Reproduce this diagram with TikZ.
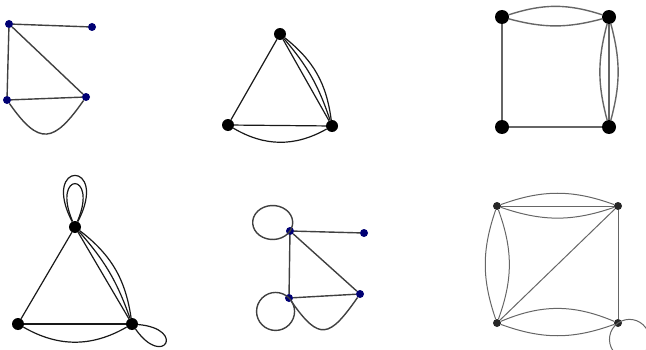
\documentclass[tikz,border=0pt]{standalone}
\usepackage{tikz}
\usetikzlibrary{calc}

\begin{document}
\begin{tikzpicture}[
        x=1pt, y=1pt,
        dot_blue/.style={circle, fill=blue!45!black, draw=none, inner sep=0pt, minimum size=8pt},
        dot_big/.style={circle, fill=black, draw=none, inner sep=0pt, minimum size=12pt},
        dot_huge/.style={circle, fill=black, draw=none, inner sep=0pt, minimum size=14pt},
        dot_small/.style={circle, fill=black!85, draw=none, inner sep=0pt, minimum size=8pt},
        edge_dark/.style={draw=black!75, line width=1.4pt},
        edge_black/.style={draw=black!90, line width=1.2pt},
        edge_gray/.style={draw=black!60, line width=1.4pt},
        edge_thin/.style={draw=black!60, line width=1pt}
    ]
    \useasboundingbox (0, 0) rectangle (646, 349);
    
    % ==================== Graph 1 (top left) ====================
    \node[dot_blue] (g1a) at (9, 325) {};
    \node[dot_blue] (g1b) at (92, 322) {};
    \node[dot_blue] (g1c) at (7, 249) {};
    \node[dot_blue] (g1d) at (86, 252) {};
    
    \draw[edge_dark] (g1a) -- (g1b);
    \draw[edge_dark] (g1a) -- (g1c);
    \draw[edge_dark] (g1a) -- (g1d);
    \draw[edge_dark] (g1c) -- (g1d);
    \draw[edge_dark] (g1c) to[out=-55, in=-125, looseness=1.8] (g1d);
    
    % ==================== Graph 2 (top middle) ====================
    \node[dot_big] (g2t) at (280, 315) {};
    \node[dot_big] (g2l) at (228, 224) {};
    \node[dot_big] (g2r) at (332, 223) {};
    
    \draw[edge_black] (g2t) -- (g2l);
    \draw[edge_black] (g2t) -- (g2r);
    \draw[edge_black] (g2t) to[bend left=11] (g2r);
    \draw[edge_black] (g2t) to[bend left=22] (g2r);
    \draw[edge_black] (g2l) -- (g2r);
    \draw[edge_black] (g2l) to[bend right=30] (g2r);
    
    % ==================== Graph 3 (top right) ====================
    \node[dot_huge] (g3tl) at (502, 332) {};
    \node[dot_huge] (g3tr) at (609, 332) {};
    \node[dot_huge] (g3bl) at (502, 222) {};
    \node[dot_huge] (g3br) at (609, 222) {};
    
    \draw[edge_gray] (g3tl) to[bend left=18] (g3tr);
    \draw[edge_gray] (g3tl) to[bend right=15] (g3tr);
    \draw[edge_gray] (g3tr) -- (g3br);
    \draw[edge_gray] (g3tr) to[bend left=15] (g3br);
    \draw[edge_gray] (g3tr) to[bend right=15] (g3br);
    \draw[edge_gray] (g3tl) -- (g3bl);
    \draw[edge_gray] (g3bl) -- (g3br);
    
    % ==================== Graph 4 (bottom left) ====================
    \node[dot_big] (g4t) at (75, 122) {};
    \node[dot_big] (g4l) at (18, 25) {};
    \node[dot_big] (g4r) at (132, 25) {};
    
    \draw[edge_black] (g4t) -- (g4l);
    \draw[edge_black] (g4t) -- (g4r);
    \draw[edge_black] (g4t) to[bend left=11] (g4r);
    \draw[edge_black] (g4t) to[bend left=22] (g4r);
    \draw[edge_black] (g4l) -- (g4r);
    \draw[edge_black] (g4l) to[bend right=30] (g4r);
    
    % loops
    \draw[edge_black] (g4t) .. controls +(-35, 67) and +(35, 67) .. (g4t);
    \draw[edge_black] (g4t) .. controls +(-24, 56) and +(24, 56) .. (g4t);
    \draw[edge_black] (g4r) .. controls +(-5:55) and +(-55:55) .. (g4r);
    
    % ==================== Graph 5 (bottom middle) ====================
    \node[dot_blue] (g5a) at (290, 118) {};
    \node[dot_blue] (g5b) at (364, 116) {};
    \node[dot_blue] (g5c) at (289, 51) {};
    \node[dot_blue] (g5d) at (360, 55) {};
    
    \draw[edge_dark] (g5a) -- (g5b);
    \draw[edge_dark] (g5a) -- (g5c);
    \draw[edge_dark] (g5a) -- (g5d);
    \draw[edge_dark] (g5c) -- (g5d);
    \draw[edge_dark] (g5c) to[out=-55, in=-125, looseness=1.9] (g5d);
    
    % loops
    \draw[edge_dark] (g5a.center) arc[start angle=-30, end angle=330, x radius=20, y radius=17];
    \draw[edge_dark] (g5c.center) arc[start angle=45, end angle=405, radius=19];
    
    % ==================== Graph 6 (bottom right) ====================
    \node[dot_small] (g6tl) at (497, 143) {};
    \node[dot_small] (g6tr) at (618, 143) {};
    \node[dot_small] (g6bl) at (497, 26) {};
    \node[dot_small] (g6br) at (618, 26) {};
    
    \draw[edge_thin] (g6tl) -- (g6tr);
    \draw[edge_thin] (g6tl) to[bend left=20] (g6tr);
    \draw[edge_thin] (g6tl) to[bend right=19] (g6tr);
    \draw[edge_thin] (g6tl) to[bend left=20] (g6bl);
    \draw[edge_thin] (g6tl) to[bend right=19] (g6bl);
    \draw[edge_thin] (g6bl) to[bend left=23] (g6br);
    \draw[edge_thin] (g6bl) to[bend right=20] (g6br);
    \draw[edge_thin] (g6bl) -- (g6tr);
    \draw[edge_thin] (g6tr) -- (g6br);
    
    % loop
    \draw[edge_thin] (g6br.center) arc[start angle=125, end angle=485, radius=20];
    
    \end{tikzpicture}
\end{document}
